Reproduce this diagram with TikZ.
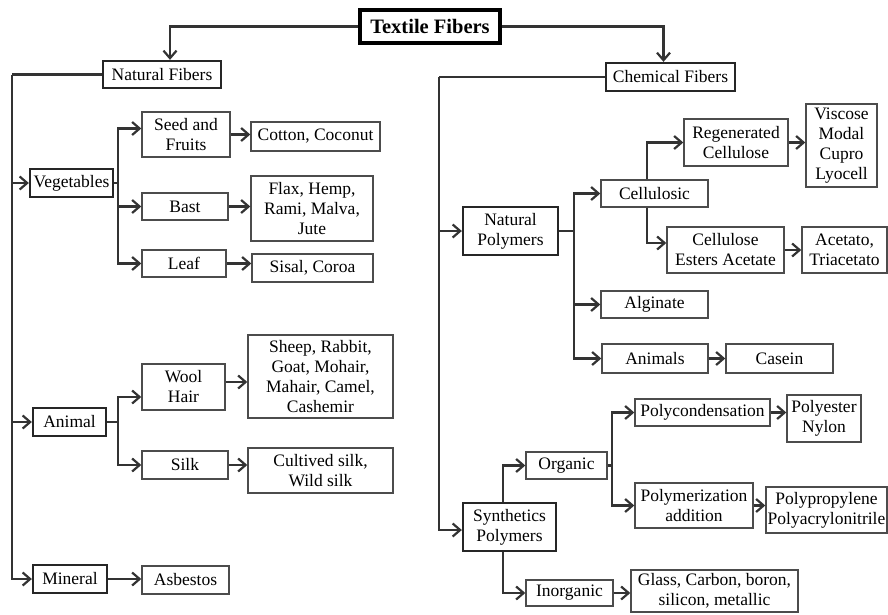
\documentclass[tikz,border=0pt]{standalone}
\usepackage{fontspec}
\setmainfont{Liberation Serif}
\usetikzlibrary{arrows.meta}

\tikzset{
  box/.style 2 args={draw=black!70, line width=1.4pt, fill=white, inner sep=0pt,
    align=center, minimum width=#1pt, minimum height=#2pt},
  main/.style={line width=2.3pt, draw=black!85},
  link/.style={draw=black!80, line width=2.2pt},
  arr/.style={link, -{Straight Barb[length=7.5pt,width=13pt]}},
}

\begin{document}
\begin{tikzpicture}[x=1pt, y=-1pt, font=\fontsize{17.5}{20}\selectfont]
    \useasboundingbox (0,0) rectangle (888,614);

    % top level
    \node[box={140}{33}, line width=3.2pt, draw=black, font=\fontsize{20.5}{24}\selectfont\bfseries] (title) at (430,26.5) {Textile Fibers};
    \node[box={118}{27}, main] (nat) at (162,74.5) {Natural Fibers};
    \node[box={129}{28}, main] (chem) at (670.5,77) {Chemical Fibers};

    % natural fibers
    \node[box={83}{28}, main] (veg) at (71.5,183) {Vegetables};
    \node[box={73}{28}, main] (animal) at (69.5,422) {Animal};
    \node[box={74}{28}, main] (mineral) at (70,579) {Mineral};

    \node[box={88}{45}] (seed) at (186,134.5) {Seed and\\Fruits};
    \node[box={129}{29}] (cotton) at (315.5,136.5) {Cotton, Coconut};
    \node[box={86}{27}] (bast) at (185,206.5) {Bast};
    \node[box={122}{65}] (flax) at (312,208.5) {Flax, Hemp,\\Rami, Malva,\\Jute};
    \node[box={84}{27}] (leaf) at (184,263.5) {Leaf};
    \node[box={121}{28}] (sisal) at (312.5,268) {Sisal, Coroa};

    \node[box={83}{46}] (wool) at (183.5,387) {Wool\\Hair};
    \node[box={145}{83}] (sheep) at (320.5,376.5) {Sheep, Rabbit,\\Goat, Mohair,\\Mahair, Camel,\\Cashemir};
    \node[box={86}{28}] (silk) at (185,465) {Silk};
    \node[box={145}{45}] (cult) at (320.5,470.5) {Cultived silk,\\Wild silk};
    \node[box={87}{28}] (asb) at (185.5,580) {Asbestos};

    % chemical fibers
    \node[box={95}{48}, main] (natpoly) at (510.5,231) {Natural\\Polymers};
    \node[box={93}{48}, main] (synpoly) at (509.5,527) {Synthetics\\Polymers};

    \node[box={107}{27}] (cellulosic) at (654.5,193.5) {Cellulosic};
    \node[box={104}{47}] (regen) at (736,142.5) {Regenerated\\Cellulose};
    \node[box={71}{83}] (viscose) at (841.5,145.5) {Viscose\\Modal\\Cupro\\Lyocell};
    \node[box={117}{46}] (cea) at (725.5,250) {Cellulose\\Esters Acetate};
    \node[box={85}{46}] (acet) at (844.5,250) {Acetato,\\Triacetato};
    \node[box={107}{27}] (alg) at (654.5,304.5) {Alginate};
    \node[box={106}{29}] (animals) at (655,358.5) {Animals};
    \node[box={107}{29}] (casein) at (779.5,358.5) {Casein};

    \node[box={81}{27}] (organic) at (566.5,465.5) {Organic};
    \node[box={135}{27}] (polyc) at (702.5,412.5) {Polycondensation};
    \node[box={74}{47}] (polyest) at (824,418.5) {Polyester\\Nylon};
    \node[box={118}{45}] (polym) at (694,505.5) {Polymerization\\addition};
    \node[box={121}{46}] (polyp) at (826.5,510) {Polypropylene\\Polyacrylonitrile};
    \node[box={87}{26}] (inorg) at (569.5,593) {Inorganic};
    \node[box={167}{42}] (glass) at (714.5,591) {Glass, Carbon, boron,\\silicon, metallic};

    % connectors from the top
    \draw[arr] (title.west) -| ([xshift=8pt]nat.north);
    \draw[arr] (title.east) -| ([xshift=-7pt]chem.north);

    % natural fibers tree
    \coordinate (nt) at (12,74.5);
    \draw[link] (nat.west) -- (nt);
    \draw[arr] (nt) |- (veg.west);
    \draw[arr] (nt) |- (animal.west);
    \draw[arr] (nt) |- (mineral.west);

    \coordinate (vb) at (118,183);
    \draw[link] (veg.east) -- (vb);
    \draw[arr] (vb) |- ([yshift=6pt]seed.west);
    \draw[arr] (vb) |- (bast.west);
    \draw[arr] (vb) |- (leaf.west);
    \draw[arr] (seed.east) -- (seed.east -| cotton.west);
    \draw[arr] (bast.east) -- (bast.east -| flax.west);
    \draw[arr] (leaf.east) -- (leaf.east -| sisal.west);

    \coordinate (ab) at (118,422);
    \draw[link] (animal.east) -- (ab);
    \draw[arr] (ab) |- ([yshift=-10pt]wool.west);
    \draw[arr] (ab) |- (silk.west);
    \draw[arr] ([yshift=5pt]wool.east) -- ([yshift=5pt]wool.east -| sheep.west);
    \draw[arr] (silk.east) -- (silk.east -| cult.west);
    \draw[arr] (mineral.east) -- (mineral.east -| asb.west);

    % chemical fibers tree
    \coordinate (ct) at (439,77);
    \draw[link] (chem.west) -- (ct);
    \draw[arr] (ct) |- (natpoly.west);
    \draw[arr] (ct) |- ([yshift=-3pt]synpoly.west);

    \coordinate (nb) at (574,231);
    \draw[link] (natpoly.east) -- (nb);
    \draw[arr] (nb) |- (cellulosic.west);
    \draw[arr] (nb) |- (alg.west);
    \draw[arr] (nb) |- (animals.west);
    \draw[arr] ([xshift=-7.5pt]cellulosic.north) |- (regen.west);
    \draw[arr] ([xshift=-7.5pt]cellulosic.south) |- ([yshift=7pt]cea.west);
    \draw[arr] (regen.east) -- (regen.east -| viscose.west);
    \draw[arr] (cea.east) -- (cea.east -| acet.west);
    \draw[arr] (animals.east) -- (animals.east -| casein.west);

    \draw[arr] ([xshift=-6.5pt]synpoly.north) |- (organic.west);
    \draw[arr] ([xshift=-6.5pt]synpoly.south) |- (inorg.west);
    \draw[arr] (inorg.east) -- (inorg.east -| glass.west);
    \coordinate (ob) at (612,465.5);
    \draw[link] (organic.east) -- (ob);
    \draw[arr] (ob) |- (polyc.west);
    \draw[arr] (ob) |- (polym.west);
    \draw[arr] (polyc.east) -- (polyc.east -| polyest.west);
    \draw[arr] (polym.east) -- (polym.east -| polyp.west);
\end{tikzpicture}
\end{document}
